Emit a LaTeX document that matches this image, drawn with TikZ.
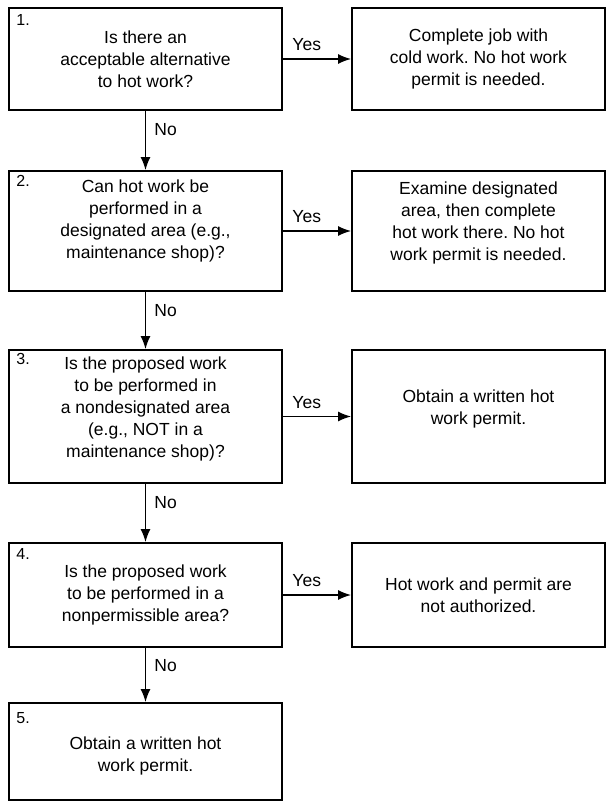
\documentclass[tikz,border=0pt]{standalone}
\usepackage{fontspec}
\setmainfont{Liberation Sans}
\usetikzlibrary{arrows.meta,calc}
\frenchspacing
\begin{document}
\begin{tikzpicture}[x=1pt,y=-1pt,
  box/.style={draw, line width=1.6pt, inner sep=0pt},
  lbox/.style={box, minimum width=273pt},
  rbox/.style={box, minimum width=253pt},
  txt/.style={align=center, font=\fontsize{17.5}{22}\selectfont, inner sep=0pt},
  num/.style={font=\fontsize{16}{18}\selectfont, inner sep=0pt, anchor=north west},
  arr/.style={-{Latex[length=13pt,width=10pt]}, line width=1.8pt},
  lab/.style={font=\fontsize{17.5}{20}\selectfont, inner sep=0pt}
]
\useasboundingbox (0,0) rectangle (608,801);

% left column
\node[lbox, minimum height=102pt] (b1) at (145.5,59) {};
\node[lbox, minimum height=120pt] (b2) at (145.5,231) {};
\node[lbox, minimum height=133pt] (b3) at (145.5,416.5) {};
\node[lbox, minimum height=104pt] (b4) at (145.5,595) {};
\node[lbox, minimum height=97pt]  (b5) at (145.5,751.5) {};
% right column
\node[rbox, minimum height=102pt] (r1) at (478.5,59) {};
\node[rbox, minimum height=120pt] (r2) at (478.5,231) {};
\node[rbox, minimum height=133pt] (r3) at (478.5,416.5) {};
\node[rbox, minimum height=104pt] (r4) at (478.5,595) {};

% numbers
\node[num] (n1) at ($(b1.north west)+(8,7)$) {1.};
\node[num] (n2) at ($(b2.north west)+(8,5)$) {2.};
\node[num] (n3) at ($(b3.north west)+(8,4)$) {3.};
\node[num] (n4) at ($(b4.north west)+(8,6)$) {4.};
\node[num] (n5) at ($(b5.north west)+(8,10)$) {5.};

% left texts
\node[txt] (t1) at (b1.center) {Is there an\\acceptable alternative\\to hot work?};
\node[txt, anchor=north] (t2) at ($(b2.north)+(0,9)$) {Can hot work be\\performed in a\\designated area (e.g.,\\maintenance shop)?};
\node[txt, anchor=north] (t3) at ($(b3.north)+(0,7)$) {Is the proposed work\\to be performed in\\a nondesignated area\\(e.g., NOT in a\\maintenance shop)?};
\node[txt] (t4) at (b4.center) {Is the proposed work\\to be performed in a\\nonpermissible area?};
\node[txt, anchor=north] (t5) at ($(b5.north)+(0,34)$) {Obtain a written hot\\work permit.};

% right texts
\node[txt] (s1) at (r1.center) {Complete job with\\cold work. No hot work\\permit is needed.};
\node[txt, anchor=north] (s2) at ($(r2.north)+(0,11)$) {Examine designated\\area, then complete\\hot work there. No hot\\work permit is needed.};
\node[txt, anchor=north] (s3) at ($(r3.north)+(0,40)$) {Obtain a written hot\\work permit.};
\node[txt] (s4) at (r4.center) {Hot work and permit are\\not authorized.};

% Yes arrows
\foreach \i in {1,2,3,4}{
  \draw[arr] (b\i) -- node[lab, above=7pt, pos=0.35] (y\i) {Yes} (r\i);
}
% No arrows
\foreach \i/\j in {1/2,2/3,3/4,4/5}{
  \draw[arr] (b\i.south) -- node[lab, anchor=west, xshift=8pt, pos=0.32] (no\i) {No} (b\j.north);
}
\end{tikzpicture}
\end{document}
